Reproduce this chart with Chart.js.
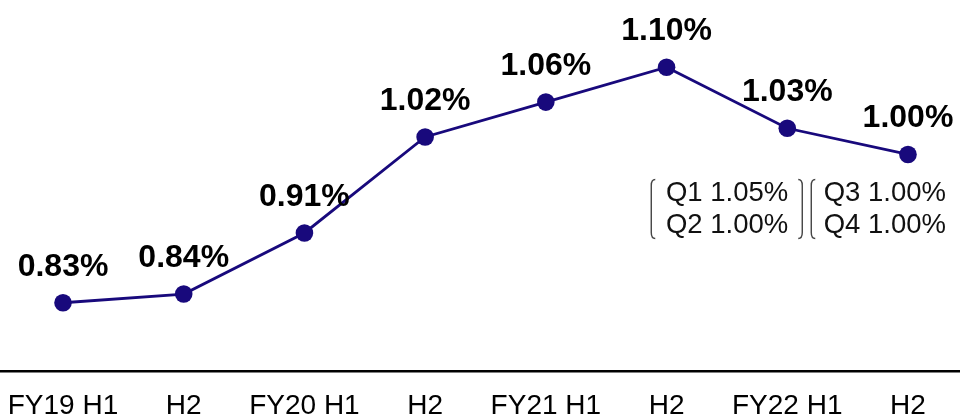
<!DOCTYPE html>
<html>
<head>
<meta charset="utf-8">
<script src="https://cdn.jsdelivr.net/npm/chart.js@4/dist/chart.umd.min.js"></script>
<style>
  html, body { margin: 0; padding: 0; background: #fff; }
  #wrap { width: 960px; height: 418px; position: relative; }
</style>
</head>
<body>
<div id="wrap"><canvas id="c"></canvas></div>
<script>
// Half-year periods and their rates (%)
const periods = ['FY19 H1', 'H2', 'FY20 H1', 'H2', 'FY21 H1', 'H2', 'FY22 H1', 'H2'];
const rates = [0.83, 0.84, 0.91, 1.02, 1.06, 1.10, 1.03, 1.00];

// Quarterly breakdown shown beside the FY22 points
const quarterNames = ['Q1', 'Q2', 'Q3', 'Q4'];
const quarterRates = [1.05, 1.00, 1.00, 1.00];

const FONT = "'Liberation Sans', Arial, sans-serif";
const LINE_COLOR = '#18097c';

// Bold value labels above each point
const valueLabels = {
  id: 'valueLabels',
  afterDatasetsDraw(chart) {
    const ctx = chart.ctx;
    const meta = chart.getDatasetMeta(0);
    ctx.save();
    ctx.font = 'bold 32px ' + FONT;
    ctx.fillStyle = '#000';
    ctx.textAlign = 'center';
    ctx.textBaseline = 'alphabetic';
    meta.data.forEach((pt, i) => {
      ctx.fillText(rates[i].toFixed(2) + '%', pt.x, pt.y - 27);
    });
    ctx.restore();
  }
};

// Bracketed quarterly figures for FY22
const quarterNotes = {
  id: 'quarterNotes',
  afterDatasetsDraw(chart) {
    const ctx = chart.ctx;
    const x = chart.scales.x;
    const y = chart.scales.y;
    const h1 = x.getPixelForValue(6);
    const h2 = x.getPixelForValue(7);
    const top = y.getPixelForValue(rates[7]) + 25;
    const bottom = top + 59;
    const rowH = 32;
    ctx.save();
    ctx.strokeStyle = '#444';
    ctx.lineWidth = 1.4;

    function leftBracket(bx) {
      ctx.beginPath();
      ctx.moveTo(bx + 4, top);
      ctx.quadraticCurveTo(bx, top, bx, top + 6);
      ctx.lineTo(bx, bottom - 6);
      ctx.quadraticCurveTo(bx, bottom, bx + 4, bottom);
      ctx.stroke();
    }
    function rightBracket(bx) {
      ctx.beginPath();
      ctx.moveTo(bx - 4, top);
      ctx.quadraticCurveTo(bx, top, bx, top + 6);
      ctx.lineTo(bx, bottom - 6);
      ctx.quadraticCurveTo(bx, bottom, bx - 4, bottom);
      ctx.stroke();
    }

    leftBracket(h1 - 136);
    rightBracket(h1 + 15);
    leftBracket(h1 + 24);

    ctx.font = '27.5px ' + FONT;
    ctx.fillStyle = '#111';
    ctx.textAlign = 'right';
    ctx.textBaseline = 'alphabetic';
    const base = top + 22;
    ctx.fillText(quarterNames[0] + ' ' + quarterRates[0].toFixed(2) + '%', h1 + 1, base);
    ctx.fillText(quarterNames[1] + ' ' + quarterRates[1].toFixed(2) + '%', h1 + 1, base + rowH);
    ctx.fillText(quarterNames[2] + ' ' + quarterRates[2].toFixed(2) + '%', h2 + 38, base);
    ctx.fillText(quarterNames[3] + ' ' + quarterRates[3].toFixed(2) + '%', h2 + 38, base + rowH);
    ctx.restore();
  }
};

new Chart(document.getElementById('c'), {
  type: 'line',
  data: {
    datasets: [{
      data: rates.map((v, i) => ({ x: i, y: v })),
      borderColor: LINE_COLOR,
      backgroundColor: LINE_COLOR,
      borderWidth: 2.8,
      pointRadius: 8.8,
      pointHoverRadius: 8.8,
      pointBackgroundColor: LINE_COLOR,
      pointBorderWidth: 0,
      tension: 0,
      clip: false
    }]
  },
  options: {
    animation: false,
    responsive: true,
    maintainAspectRatio: false,
    layout: { padding: 0, autoPadding: false },
    plugins: {
      legend: { display: false },
      tooltip: { enabled: false },
      title: { display: false }
    },
    scales: {
      x: {
        type: 'linear',
        min: -0.522,
        max: 7.431,
        grid: { display: false, drawTicks: false },
        border: { display: true, color: '#000', width: 2.5 },
        ticks: {
          stepSize: 1,
          includeBounds: false,
          autoSkip: false,
          maxRotation: 0,
          padding: 21,
          color: '#000',
          font: { family: FONT, size: 28, lineHeight: 1 },
          callback: (v) => Number.isInteger(v) ? periods[v] : ''
        },
        afterFit(scale) {
          // labels sit inside the canvas width, so no side padding is needed
          scale.paddingLeft = 0;
          scale.paddingRight = 0;
          scale.height = 47;
        }
      },
      y: {
        display: false,
        min: 0.7518,
        max: 1.177
      }
    }
  },
  plugins: [valueLabels, quarterNotes]
});
</script>
</body>
</html>
